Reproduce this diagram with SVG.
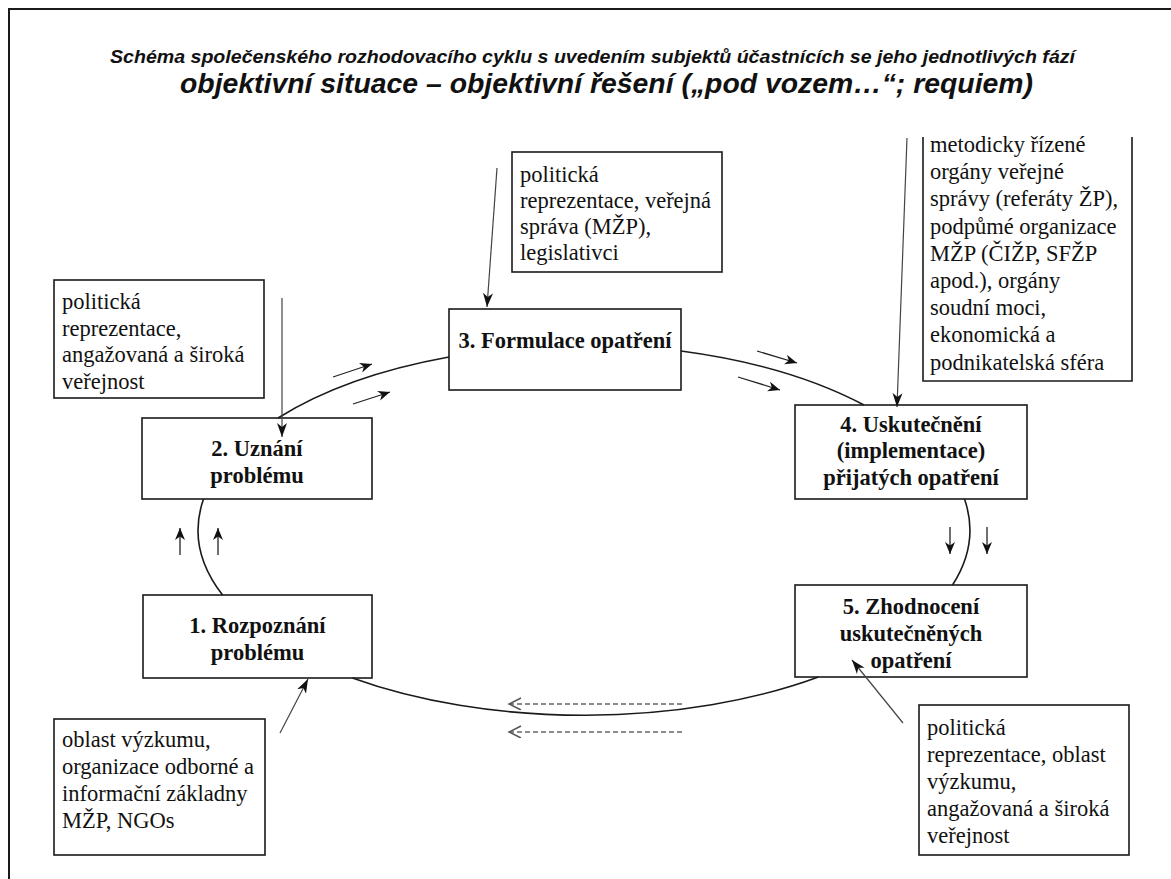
<svg xmlns="http://www.w3.org/2000/svg" width="1171" height="879" viewBox="0 0 1171 879">
  <style>
    .frame { fill: none; stroke: #1a1a1a; stroke-width: 2; }
    .box { fill: #fff; stroke: #1a1a1a; stroke-width: 1.6; }
    .side { fill: none; stroke: #1a1a1a; stroke-width: 1.6; }
    .t { font-family: "Liberation Serif", "Times New Roman", serif; font-size: 22.5px; fill: #111; }
    .b { font-family: "Liberation Serif", "Times New Roman", serif; font-size: 22.5px; font-weight: bold; fill: #111; text-anchor: middle; }
    .h1 { font-family: "Liberation Sans", Arial, sans-serif; font-style: italic; font-weight: bold; font-size: 18px; fill: #111; }
    .h2 { font-family: "Liberation Sans", Arial, sans-serif; font-style: italic; font-weight: bold; font-size: 27px; fill: #111; }
    .cycle { fill: none; stroke: #1a1a1a; stroke-width: 1.6; }
    .flow { fill: none; stroke: #222; stroke-width: 1.3; marker-end: url(#small); }
    .feed { fill: none; stroke: #444; stroke-width: 1.2; marker-end: url(#head); }
    .back { fill: none; stroke: #666; stroke-width: 1.4; stroke-dasharray: 5 3; marker-end: url(#open); }
  </style>
  <defs>
    <marker id="head" markerUnits="userSpaceOnUse" markerWidth="16" markerHeight="12" refX="14" refY="5" orient="auto">
      <path d="M0,0 L14,5 L0,10 L4,5 z" fill="#111"/>
    </marker>
    <marker id="small" markerUnits="userSpaceOnUse" markerWidth="15" markerHeight="11" refX="12" refY="5" orient="auto">
      <path d="M0,0 L12,5 L0,10 L3.5,5 z" fill="#111"/>
    </marker>
    <marker id="open" markerUnits="userSpaceOnUse" markerWidth="16" markerHeight="14" refX="13" refY="6" orient="auto">
      <path d="M1,0 L13,6 L1,12" fill="none" stroke="#555" stroke-width="1.5"/>
    </marker>
  </defs>

  <rect class="frame" x="9" y="9" width="1200" height="900"/>

  <!-- heading -->
  <text class="h1" x="110" y="63" textLength="965" lengthAdjust="spacingAndGlyphs">Schéma společenského rozhodovacího cyklu s uvedením subjektů účastnících se jeho jednotlivých fází</text>
  <text class="h2" x="180" y="93" textLength="853" lengthAdjust="spacingAndGlyphs">objektivní situace – objektivní řešení („pod vozem…“; requiem)</text>

  <!-- phases of the cycle -->
  <g id="phase1">
    <rect class="box" x="143" y="595" width="229" height="83"/>
    <text class="b" x="257.5" y="633">1. Rozpoznání</text>
    <text class="b" x="257.5" y="660">problému</text>
  </g>
  <g id="phase2">
    <rect class="box" x="142" y="418" width="230" height="81"/>
    <text class="b" x="257" y="456">2. Uznání</text>
    <text class="b" x="257" y="483">problému</text>
  </g>
  <g id="phase3">
    <rect class="box" x="449" y="309" width="232" height="81"/>
    <text class="b" x="565" y="348">3. Formulace opatření</text>
  </g>
  <g id="phase4">
    <rect class="box" x="795" y="405" width="232" height="94"/>
    <text class="b" x="911" y="432">4. Uskutečnění</text>
    <text class="b" x="911" y="458">(implementace)</text>
    <text class="b" x="911" y="485">přijatých opatření</text>
  </g>
  <g id="phase5">
    <rect class="box" x="795" y="585" width="232" height="92"/>
    <text class="b" x="911" y="614">5. Zhodnocení</text>
    <text class="b" x="911" y="641">uskutečněných</text>
    <text class="b" x="911" y="668">opatření</text>
  </g>

  <!-- actors of each phase -->
  <g id="actors1">
    <rect class="box" x="54" y="719" width="211" height="136"/>
    <text class="t" x="62" y="747">oblast výzkumu,</text>
    <text class="t" x="62" y="774">organizace odborné a</text>
    <text class="t" x="62" y="801">informační základny</text>
    <text class="t" x="62" y="828">MŽP, NGOs</text>
  </g>
  <g id="actors2">
    <rect class="box" x="54" y="280" width="210" height="118"/>
    <text class="t" x="62" y="309">politická</text>
    <text class="t" x="62" y="335.5">reprezentace,</text>
    <text class="t" x="62" y="362">angažovaná a široká</text>
    <text class="t" x="62" y="388.5">veřejnost</text>
  </g>
  <g id="actors3">
    <rect class="box" x="512" y="152" width="210" height="120"/>
    <text class="t" x="520" y="182">politická</text>
    <text class="t" x="520" y="208">reprezentace, veřejná</text>
    <text class="t" x="520" y="234">správa (MŽP),</text>
    <text class="t" x="520" y="260">legislativci</text>
  </g>
  <g id="actors4">
    <path class="side" d="M923,137 V381 H1132 V137"/>
    <text class="t" x="930" y="152">metodicky řízené</text>
    <text class="t" x="930" y="179.2">orgány veřejné</text>
    <text class="t" x="930" y="206.4">správy (referáty ŽP),</text>
    <text class="t" x="930" y="233.6">podpůmé organizace</text>
    <text class="t" x="930" y="260.8">MŽP (ČIŽP, SFŽP</text>
    <text class="t" x="930" y="288">apod.), orgány</text>
    <text class="t" x="930" y="315.2">soudní moci,</text>
    <text class="t" x="930" y="342.4">ekonomická a</text>
    <text class="t" x="930" y="369.6">podnikatelská sféra</text>
  </g>
  <g id="actors5">
    <rect class="box" x="919" y="705" width="210" height="150"/>
    <text class="t" x="927" y="735">politická</text>
    <text class="t" x="927" y="762">reprezentace, oblast</text>
    <text class="t" x="927" y="789">výzkumu,</text>
    <text class="t" x="927" y="816">angažovaná a široká</text>
    <text class="t" x="927" y="843">veřejnost</text>
  </g>

  <g id="connectors">
    <!-- elliptical cycle between the phases -->
    <path class="cycle" d="M222.6,595 A386,186 0 0 1 203.5,499"/>
    <path class="cycle" d="M278,418 A386,186 0 0 1 449,357"/>
    <path class="cycle" d="M681,351 A386,186 0 0 1 864,405"/>
    <path class="cycle" d="M964.5,499 A386,186 0 0 1 952.5,585"/>
    <path class="cycle" d="M818.4,677 A386,186 0 0 1 352.4,678"/>

    <!-- direction marks along the cycle -->
    <line class="flow" x1="180" y1="555" x2="180" y2="528"/>
    <line class="flow" x1="218" y1="555" x2="218" y2="528"/>
    <line class="flow" x1="333" y1="377" x2="372" y2="364"/>
    <line class="flow" x1="353" y1="404" x2="390" y2="392"/>
    <line class="flow" x1="757" y1="351" x2="797" y2="363"/>
    <line class="flow" x1="738" y1="377" x2="780" y2="390"/>
    <line class="flow" x1="950" y1="527" x2="950" y2="554"/>
    <line class="flow" x1="987" y1="527" x2="987" y2="554"/>

    <!-- feedback (dashed) -->
    <line class="back" x1="682" y1="704" x2="509" y2="704"/>
    <line class="back" x1="682" y1="732" x2="509" y2="732"/>

    <!-- actors entering the phases -->
    <line class="feed" x1="282" y1="298" x2="282" y2="437"/>
    <line class="feed" x1="497" y1="168" x2="487" y2="307"/>
    <line class="feed" x1="907" y1="138" x2="897" y2="407"/>
    <line class="feed" x1="280" y1="733" x2="308" y2="679"/>
    <line class="feed" x1="903" y1="723" x2="852" y2="660"/>
  </g>
</svg>
